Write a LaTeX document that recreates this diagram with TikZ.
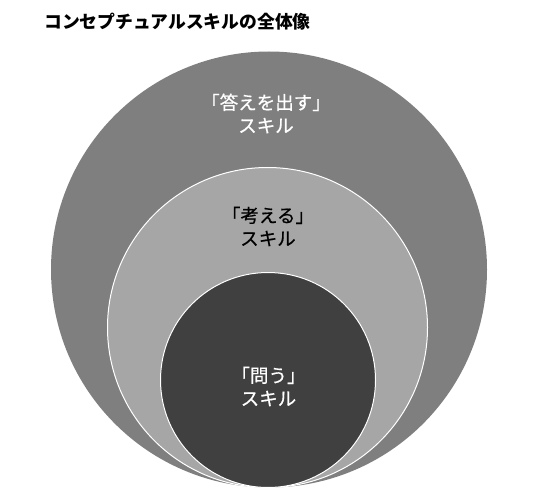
\documentclass[tikz,border=0pt]{standalone}
\usepackage{fontspec}
\newfontfamily\cjk{Noto Sans CJK JP}
\newfontfamily\cjkm[FakeBold=0.6]{Noto Sans CJK JP}
\definecolor{outerg}{HTML}{7F7F7F}
\definecolor{middleg}{HTML}{A6A6A6}
\definecolor{innerg}{HTML}{404040}
\begin{document}
\begin{tikzpicture}[x=1pt,y=-1pt,
  ring/.style={circle, inner sep=0pt, draw=white, line width=1pt},
  lbl/.style={align=center, inner sep=0pt, font=\cjkm\fontsize{18.5}{23}\selectfont},
  ttl/.style={anchor=west, inner sep=0pt, font=\cjk\bfseries\fontsize{17.8}{20}\selectfont}]
\useasboundingbox (0,0) rectangle (540,497);
\fill[white] (0,0) rectangle (540,497);
\node[ring, fill=outerg, draw=none, minimum size=436pt] (outer) at (269,269.5) {};
\node[ring, fill=middleg, minimum size=320pt] (middle) at (267.5,327.5) {};
\node[ring, fill=innerg, minimum size=215pt] (inner) at (268,380) {};
\node[ttl] (title) at (44,22) {コンセプチュアルスキルの全体像};
\node[lbl, text=white] (outerlbl) at (266,113.5) {「答えを出す」\\スキル};
\node[lbl, text=black] (middlelbl) at (268,226.5) {「考える」\\スキル};
\node[lbl, text=white] (innerlbl) at (268.5,386.5) {「問う」\\スキル};
\end{tikzpicture}
\end{document}
